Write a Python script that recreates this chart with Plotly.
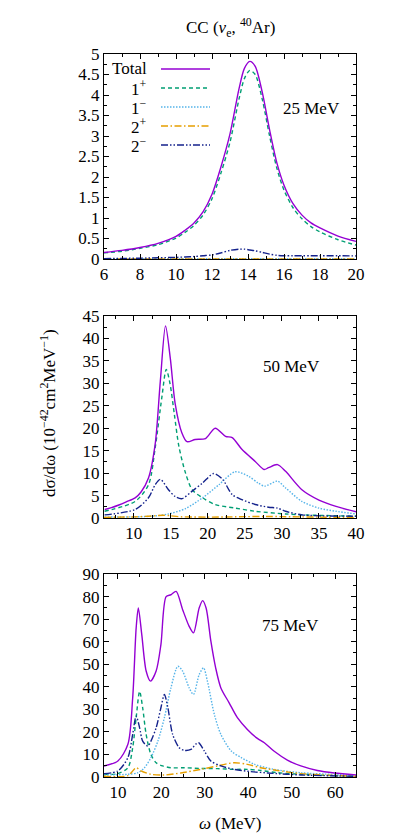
import plotly.graph_objects as go

# ---------------- data ----------------
# 25 MeV
x25 = [6, 7, 8, 9, 10, 10.5, 11, 11.5, 12, 12.5, 13, 13.5, 13.8, 14.1, 14.4, 14.8, 15.2, 15.6, 16, 16.5, 17, 17.5, 18, 19, 20]
tot25 = [0.16, 0.21, 0.28, 0.38, 0.55, 0.70, 0.88, 1.15, 1.58, 2.25, 3.05, 4.15, 4.65, 4.82, 4.70, 4.05, 3.15, 2.35, 1.80, 1.35, 1.07, 0.88, 0.76, 0.56, 0.43]
p1_25 = [0.15, 0.19, 0.26, 0.35, 0.51, 0.65, 0.82, 1.07, 1.47, 2.10, 2.85, 3.90, 4.40, 4.60, 4.50, 3.88, 3.00, 2.22, 1.68, 1.25, 0.98, 0.79, 0.66, 0.47, 0.34]
m1_25 = [0.005, 0.005, 0.006, 0.006, 0.007, 0.007, 0.008, 0.008, 0.009, 0.009, 0.01, 0.01, 0.01, 0.01, 0.01, 0.01, 0.01, 0.009, 0.009, 0.008, 0.008, 0.008, 0.007, 0.007, 0.006]
p2_25 = [0.002] * 25
m2_25 = [0.01, 0.015, 0.02, 0.03, 0.04, 0.05, 0.06, 0.08, 0.10, 0.15, 0.21, 0.24, 0.24, 0.22, 0.20, 0.16, 0.12, 0.09, 0.08, 0.08, 0.08, 0.08, 0.08, 0.08, 0.075]

# 50 MeV
x50_tot = [6.1, 7, 8, 9, 10.2, 11, 12, 12.9, 13.6, 14.3, 14.95, 15.6, 16.5, 17.2, 18.3, 19.7, 21.0, 22.4, 23.3, 24.6, 26.4, 27.6, 28.2, 29.4, 30.5, 32.7, 35, 37.3, 40]
tot50 = [1.9, 2.3, 2.9, 3.6, 4.5, 5.8, 8.9, 16.4, 30.5, 42.8, 35.5, 25.5, 19.0, 17.0, 17.5, 17.7, 20.0, 18.2, 17.9, 15.3, 12.6, 10.8, 11.2, 11.9, 10.4, 6.3, 4.0, 2.6, 1.4]
x50_p1 = [6.08, 10.2, 12.0, 12.9, 13.8, 14.4, 14.9, 15.5, 16.1, 17.0, 17.9, 19.3, 21.0, 23.7, 26.4, 30.5, 32.7, 40]
p1_50 = [1.5, 3.7, 7.4, 15.6, 26.8, 33.1, 30.0, 23.0, 16.0, 10.0, 6.3, 4.5, 3.0, 2.2, 1.5, 0.9, 0.7, 0.4]
x50_m1 = [6.08, 12.5, 14.7, 17.0, 19.3, 21.5, 23.7, 25.5, 26.8, 27.7, 29.4, 30.5, 32.7, 35.0, 37.3, 40]
m1_50 = [0.2, 0.4, 0.9, 2.1, 4.5, 7.4, 10.3, 9.3, 7.8, 7.1, 8.2, 6.7, 3.7, 2.2, 1.5, 0.9]
x50_p2 = [6, 10, 12, 14, 15, 16, 20, 25, 28, 30, 35, 40]
p2_50 = [0.15, 0.25, 0.4, 0.6, 0.5, 0.3, 0.2, 0.3, 0.35, 0.3, 0.2, 0.1]
x50_m2 = [6.08, 10.2, 12.0, 12.9, 13.6, 14.7, 15.6, 16.5, 17.9, 19.3, 20.8, 22.0, 23.3, 24.6, 26.4, 28.2, 29.4, 30.5, 32.7, 40]
m2_50 = [0.7, 1.9, 4.5, 7.4, 8.6, 6.3, 4.8, 4.3, 6.0, 7.8, 9.9, 8.6, 5.2, 4.1, 3.0, 2.4, 2.2, 1.5, 0.7, 0.4]

# 75 MeV
x75_tot = [6.8, 10, 12.3, 13.4, 14.2, 14.7, 15.5, 16.5, 17.5, 18.8, 19.9, 21.1, 22.2, 23.4, 24.9, 26.4, 27.4, 28.7, 29.5, 30.3, 31.4, 32.5, 33.7, 35.6, 37.5, 39.8, 42.1, 43.7, 45.9, 49, 52.1, 55.9, 59.8, 65.1]
tot75 = [4.9, 7.1, 14.5, 35, 66, 75, 63, 47, 42.5, 47, 58.7, 80, 80.8, 82.3, 74.2, 66.8, 63.9, 74.9, 78.2, 74.9, 60.2, 48.4, 39.5, 32.9, 26.3, 21.1, 17.1, 15.2, 11.5, 7.5, 4.9, 2.9, 1.8, 0.9]
x75_p1 = [6.8, 10, 12.3, 13.4, 14.2, 15.0, 15.7, 16.5, 17.6, 18.8, 20.3, 22.2, 25.3, 29.1, 32.9, 36.7, 39.8, 42.9, 46.7, 52.1, 65.1]
p1_75 = [1.2, 1.5, 4.1, 13, 26.3, 38, 30.7, 18.9, 10, 6.3, 4.9, 4.1, 4.1, 3.8, 3.7, 3.4, 3.4, 2.9, 1.9, 1.2, 0.3]
x75_m1 = [6.8, 12.3, 14.6, 16.1, 17.6, 19.2, 20.7, 22.2, 23.8, 24.9, 26.4, 27.4, 28.7, 29.7, 30.6, 32.2, 33.7, 36.1, 38.4, 41.5, 45.9, 52.1, 65.1]
m1_75 = [0.9, 1.2, 1.9, 4.1, 8.6, 15.9, 26.3, 39.5, 49.1, 46.9, 39.5, 36.6, 45.4, 48.4, 42.5, 27.7, 18.9, 11.5, 8.6, 5.6, 3.4, 1.9, 0.7]
x75_p2 = [6.8, 12.3, 14.2, 15.3, 17.6, 20.7, 24.5, 29.1, 32.9, 36.7, 39.8, 42.9, 46.7, 52.1, 65.1]
p2_75 = [0.3, 0.6, 4.1, 2.7, 1.2, 0.9, 1.8, 3.4, 4.9, 6.3, 5.6, 4.1, 2.9, 1.5, 0.3]
x75_m2 = [6.8, 10, 12.3, 13.4, 14.2, 15.0, 15.7, 16.9, 17.6, 18.8, 19.9, 20.7, 21.5, 22.6, 24.1, 25.3, 26.8, 28.0, 28.6, 29.9, 31.4, 33.7, 36.7, 40.6, 44.4, 52.1, 65.1]
m2_75 = [1.5, 2.7, 8.6, 18.9, 27, 21.8, 15.9, 13.7, 15.9, 21.8, 30.7, 36.6, 30.7, 18.9, 13, 11.8, 12.2, 14.7, 15.2, 11.5, 7.1, 4.9, 3.4, 2.4, 1.8, 0.9, 0.3]

series_names = ["Total", "1<sup>+</sup>", "1<sup>−</sup>", "2<sup>+</sup>", "2<sup>−</sup>"]
energy_labels = ["25 MeV", "50 MeV", "75 MeV"]

# ---------------- style ----------------
W, H = 394, 834
FONT = "Liberation Serif"
colors = ["#9400d3", "#009e73", "#56b4e9", "#e69f00", "#14228c"]
dashes = ["solid", "4px,3px", "1.5px,1.5px", "7px,2.5px,1.5px,2.5px", "7px,2px,1.5px,2px,1.5px,2px"]
LW = 1.4

def px(xp):
    return xp / W

def py(yp):
    return 1 - yp / H

fig = go.Figure()

panels = [
    [(x25, tot25), (x25, p1_25), (x25, m1_25), (x25, p2_25), (x25, m2_25)],
    [(x50_tot, tot50), (x50_p1, p1_50), (x50_m1, m1_50), (x50_p2, p2_50), (x50_m2, m2_50)],
    [(x75_tot, tot75), (x75_p1, p1_75), (x75_m1, m1_75), (x75_p2, p2_75), (x75_m2, m2_75)],
]
order = [1, 2, 3, 4, 0]
for pi, panel in enumerate(panels):
    sfx = "" if pi == 0 else str(pi + 1)
    for si in order:
        xs, ys = panel[si]
        fig.add_trace(go.Scatter(
            x=xs, y=ys, mode="lines", xaxis="x" + sfx, yaxis="y" + sfx,
            line=dict(color=colors[si], width=LW, dash=dashes[si], shape="spline", smoothing=0.8),
            showlegend=False, hoverinfo="skip"))

xdom = [px(96), px(348)]
ydoms = [[py(251), py(46)], [py(510), py(308)], [py(769), py(566)]]
xranges = [[6, 20], [6, 40], [6.8, 64.8]]
yranges = [[0, 5], [0, 45], [0, 90]]
xdt = [(2, 1), (5, 2.5), (10, 5)]
ydt = [(0.5, 0.25), (5, 2.5), (10, 5)]

axcommon = dict(showgrid=False, zeroline=False, showline=True, linecolor="black", linewidth=1,
                mirror="allticks", ticks="inside", ticklen=5, tickwidth=1, tickcolor="black",
                tickfont=dict(family=FONT, size=17, color="black"))

layout = dict(width=W, height=H, margin=dict(l=0, r=0, t=0, b=0, autoexpand=False),
              paper_bgcolor="white", plot_bgcolor="white",
              font=dict(family=FONT, color="black"))
for i in range(3):
    sfx = "" if i == 0 else str(i + 1)
    layout["xaxis" + sfx] = dict(axcommon, domain=xdom, range=xranges[i], anchor="y" + sfx,
                                 tick0=0, dtick=xdt[i][0],
                                 minor=dict(ticks="inside", ticklen=3, tickcolor="black", dtick=xdt[i][1], tick0=0, showgrid=False))
    layout["yaxis" + sfx] = dict(axcommon, domain=ydoms[i], range=yranges[i], anchor="x" + sfx,
                                 tick0=0, dtick=ydt[i][0],
                                 minor=dict(ticks="inside", ticklen=3, tickcolor="black", dtick=ydt[i][1], tick0=0, showgrid=False))
fig.update_layout(**layout)

def note(text, x, y, xanchor="center", angle=0):
    return dict(text=text, x=px(x), y=py(y), xref="paper", yref="paper",
                xanchor=xanchor, yanchor="middle", textangle=angle,
                showarrow=False, font=dict(family=FONT, size=17, color="black"))

ann = []
ann.append(note("CC (<i>ν</i><sub>e</sub>, <sup>40</sup>Ar)", 222, 20))
ann.append(note("dσ/dω (10<sup>−42</sup>cm<sup>2</sup>MeV<sup>−1</sup>)", 40, 405, angle=-90))
ann.append(note("<i>ω</i> (MeV)", 222, 815))
for lab, (cx, cy) in zip(energy_labels, [(303, 100), (283, 358), (282, 617)]):
    ann.append(note(lab, cx, cy))

shapes = []
leg_rows = [61, 80, 99, 118, 137]
for name, c, d, ry in zip(series_names, colors, dashes, leg_rows):
    ann.append(note(name, 141, ry, xanchor="right"))
    shapes.append(dict(type="line", x0=px(153), x1=px(202), y0=py(ry), y1=py(ry), xref="paper", yref="paper",
                       line=dict(color=c, width=LW, dash=d)))
fig.update_layout(annotations=ann, shapes=shapes)

fig.write_html("out.html")
